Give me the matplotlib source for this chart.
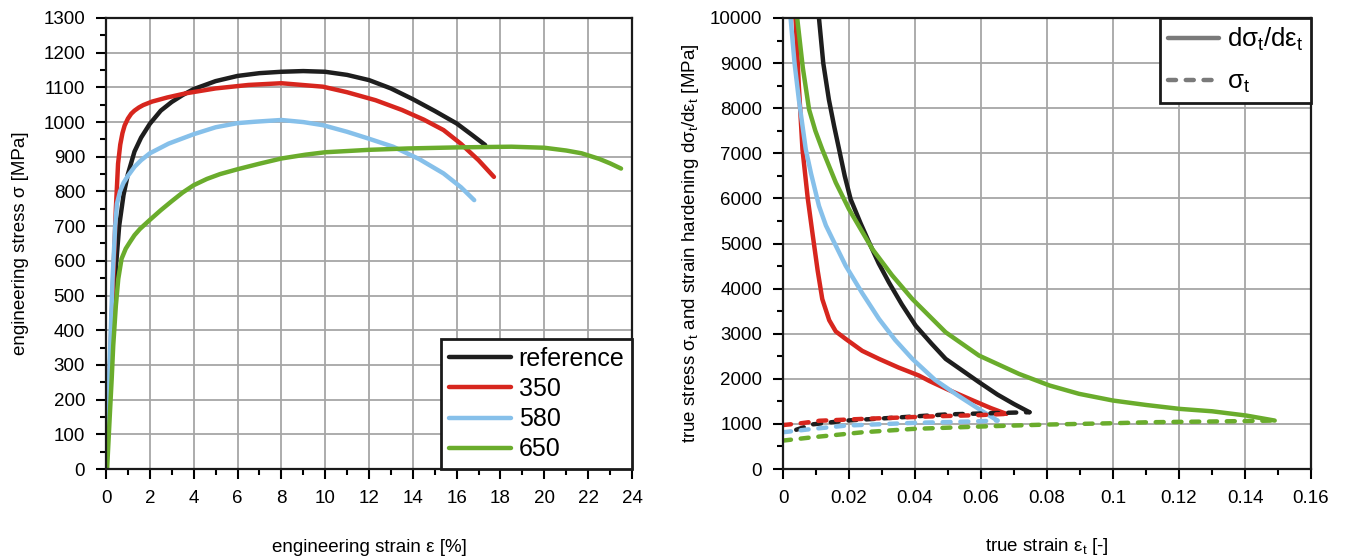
import matplotlib
matplotlib.use("Agg")
import matplotlib.pyplot as plt
from matplotlib.lines import Line2D
from matplotlib.ticker import MultipleLocator, FuncFormatter

plt.rcParams['font.family'] = ['Liberation Sans', 'DejaVu Sans']
plt.rcParams['mathtext.fontset'] = 'custom'
plt.rcParams['mathtext.rm'] = 'Liberation Sans'
plt.rcParams['mathtext.it'] = 'Liberation Sans:italic'
plt.rcParams['mathtext.default'] = 'regular'

# ---- left: engineering stress-strain ----
labels = ['reference', '350', '580', '650']
colors = ['#1e1e1e', '#d7261e', '#86c0ea', '#6aac2c']

ref_strain = [0, 0.3, 0.45, 0.6, 0.8, 1.0, 1.3, 1.6, 2.0, 2.5, 3.0, 3.5, 4, 5, 6, 7, 8, 9, 10,
              11, 12, 13, 14, 15, 16, 16.7, 17.3]
ref_stress = [0, 400, 580, 700, 790, 850, 915, 955, 995, 1033, 1058, 1078, 1095, 1118, 1133, 1141,
              1145, 1147, 1145, 1136, 1121, 1097, 1066, 1032, 996, 963, 934]

s350_strain = [0, 0.3, 0.45, 0.55, 0.65, 0.75, 0.85, 1.0, 1.15, 1.3, 1.5, 1.7, 2.1, 2.8, 3.65,
               5, 6.5, 8, 9.9, 11, 12.3, 13.5, 14.5, 15.4, 16.2, 17.0, 17.7]
s350_stress = [0, 500, 750, 880, 935, 968, 990, 1010, 1024, 1033, 1042, 1049, 1059, 1071, 1083,
               1097, 1107, 1112, 1102, 1086, 1063, 1035, 1007, 977, 937, 890, 842]

s580_strain = [0, 0.3, 0.42, 0.5, 0.64, 0.8, 1.0, 1.3, 1.6, 2.0, 2.86, 4, 5, 6, 6.8, 8, 9, 9.9,
               11, 12, 13.1, 14.3, 15.4, 16.2, 16.8]
s580_stress = [0, 550, 700, 765, 800, 825, 845, 871, 890, 910, 938, 965, 985, 997, 1001, 1006,
               1000, 991, 972, 952, 929, 893, 852, 812, 775]

s650_strain = [0.05, 0.18, 0.26, 0.33, 0.45, 0.56, 0.71, 0.9, 1.09, 1.3, 1.55, 2.0, 2.5, 3.0, 3.5,
               4.0, 4.6, 5.2, 6, 7, 8, 9.1, 10, 12, 13.8, 16, 18.5, 20, 21, 21.7, 22.5, 23, 23.5]
s650_stress = [0, 163, 260, 356, 471, 548, 606, 635, 654, 674, 692, 718, 746, 772, 797, 818, 836,
               850, 864, 880, 895, 906, 913, 920, 924, 927, 929, 926, 918, 910, 894, 881, 866]

# ---- right: true stress and hardening rate ----
ref_h_eps = [0.0109, 0.0122, 0.0139, 0.0155, 0.0170, 0.0187, 0.0205, 0.0235, 0.0261, 0.029,
             0.0321, 0.0360, 0.0402, 0.045, 0.0493, 0.055, 0.0594, 0.065, 0.070, 0.0747]
ref_h = [10000, 9000, 8193, 7600, 7087, 6500, 5981, 5450, 5022, 4560, 4137, 3650, 3178, 2780,
         2441, 2150, 1925, 1650, 1440, 1259]
s350_h_eps = [0.0038, 0.0048, 0.0059, 0.0075, 0.0089, 0.0105, 0.0119, 0.014, 0.016, 0.019,
              0.024, 0.0291, 0.035, 0.0412, 0.0444, 0.05, 0.0576, 0.063, 0.0677]
s350_h = [10000, 8500, 7087, 6000, 5243, 4400, 3768, 3300, 3050, 2884, 2620, 2441, 2250, 2072,
          1950, 1760, 1518, 1350, 1222]
s580_h_eps = [0.0023, 0.0035, 0.0048, 0.0069, 0.0085, 0.0109, 0.013, 0.015, 0.019, 0.024,
              0.0291, 0.034, 0.0392, 0.046, 0.053, 0.06, 0.065]
s580_h = [10000, 9000, 8193, 7087, 6550, 5833, 5400, 5100, 4506, 3900, 3326, 2860, 2441, 1980,
          1630, 1300, 1074]
s650_h_eps = [0.0043, 0.006, 0.0079, 0.0098, 0.0119, 0.016, 0.02, 0.0271, 0.033, 0.0392, 0.0493,
              0.0594, 0.0715, 0.0808, 0.0897, 0.1, 0.11, 0.1202, 0.13, 0.1404, 0.149]
s650_h = [10000, 8900, 7972, 7500, 7087, 6350, 5760, 4875, 4300, 3768, 3031, 2515, 2109, 1851,
          1667, 1518, 1420, 1333, 1280, 1185, 1074]

ref_t_eps = [0.004, 0.009, 0.0192, 0.0343, 0.0495, 0.0697, 0.0747]
ref_t = [870, 990, 1074, 1140, 1210, 1250, 1259]
s350_t_eps = [0, 0.005, 0.0111, 0.0242, 0.0444, 0.0596, 0.0677]
s350_t = [975, 1010, 1070, 1111, 1165, 1195, 1222]
s580_t_eps = [0, 0.009, 0.0192, 0.0394, 0.0596, 0.065]
s580_t = [815, 889, 963, 1022, 1059, 1074]
s650_t_eps = [0, 0.009, 0.0242, 0.0394, 0.0596, 0.0798, 0.1, 0.111, 0.136, 0.149]
s650_t = [630, 704, 815, 889, 941, 985, 1015, 1037, 1059, 1074]

fig = plt.figure(figsize=(13.45, 5.59), dpi=100)
ax1 = fig.add_axes([106 / 1345, 1 - 469 / 559, (632 - 106) / 1345, (469 - 18) / 559])
ax2 = fig.add_axes([783 / 1345, 1 - 469 / 559, (1311 - 783) / 1345, (469 - 18) / 559])

lw = 3.2
eng = [(ref_strain, ref_stress), (s350_strain, s350_stress), (s580_strain, s580_stress),
       (s650_strain, s650_stress)]
for (x, y), c, lab in zip(eng, colors, labels):
    ax1.plot(x, y, color=c, lw=lw, label=lab, solid_capstyle='round', solid_joinstyle='round')

hard = [(ref_h_eps, ref_h), (s350_h_eps, s350_h), (s580_h_eps, s580_h), (s650_h_eps, s650_h)]
true = [(ref_t_eps, ref_t), (s350_t_eps, s350_t), (s580_t_eps, s580_t), (s650_t_eps, s650_t)]
for (x, y), c in zip(hard, colors):
    ax2.plot(x, y, color=c, lw=lw, solid_capstyle='round', solid_joinstyle='round')
for (x, y), c in zip(true, colors):
    ax2.plot(x, y, color=c, lw=lw, dashes=(1.8, 2.2), dash_capstyle='round')

for ax in (ax1, ax2):
    ax.grid(True, which='major', color='#a6a6a6', lw=1.3)
    ax.set_axisbelow(True)
    ax.tick_params(which='major', direction='out', length=7, width=1.5, labelsize=13.5,
                   top=False, right=False, pad=8)
    ax.tick_params(which='minor', direction='out', length=4, width=1.5, top=False, right=False)
    for sp in ax.spines.values():
        sp.set_linewidth(1.6)
        sp.set_color('#1a1a1a')

ax1.set_xlim(0, 24)
ax1.set_ylim(0, 1300)
ax1.xaxis.set_major_locator(MultipleLocator(2))
ax1.xaxis.set_minor_locator(MultipleLocator(1))
ax1.yaxis.set_major_locator(MultipleLocator(100))
ax1.yaxis.set_minor_locator(MultipleLocator(50))
ax1.set_xlabel('engineering strain ε [%]', fontsize=13.5, labelpad=23)
ax1.set_ylabel('engineering stress σ [MPa]', fontsize=13.5, labelpad=10)

leg1 = ax1.legend(loc='lower right', borderaxespad=0, fontsize=18, handlelength=2.5,
                  handletextpad=0.3, labelspacing=0.25, fancybox=False, framealpha=1,
                  borderpad=0.3)
leg1.get_frame().set_edgecolor('#1a1a1a')
leg1.get_frame().set_linewidth(2)

ax2.set_xlim(0, 0.16)
ax2.set_ylim(0, 10000)
ax2.xaxis.set_major_locator(MultipleLocator(0.02))
ax2.xaxis.set_minor_locator(MultipleLocator(0.01))
ax2.yaxis.set_major_locator(MultipleLocator(1000))
ax2.yaxis.set_minor_locator(MultipleLocator(500))
ax2.xaxis.set_major_formatter(FuncFormatter(lambda v, p: '%g' % round(v, 4)))
ax2.set_xlabel(r'true strain $\varepsilon_t$ [-]', fontsize=13.5, labelpad=21)
ax2.set_ylabel(r'true stress $\sigma_t$ and strain hardening d$\sigma_t$/d$\varepsilon_t$ [MPa]',
               fontsize=13.5, labelpad=6)

handles = [Line2D([], [], color='#7a7a7a', lw=lw, solid_capstyle='round'),
           Line2D([], [], color='#7a7a7a', lw=lw, dashes=(1.8, 2.2), dash_capstyle='round')]
leg2 = ax2.legend(handles, [r'd$\sigma_t$/d$\varepsilon_t$', r'$\sigma_t$'], loc='upper right',
                  borderaxespad=0, fontsize=18.5, handlelength=2.0, handletextpad=0.3,
                  labelspacing=0.65, fancybox=False, framealpha=1, borderpad=0.3)
leg2.get_frame().set_edgecolor('#1a1a1a')
leg2.get_frame().set_linewidth(2)

fig.savefig('out.png', dpi=100)
